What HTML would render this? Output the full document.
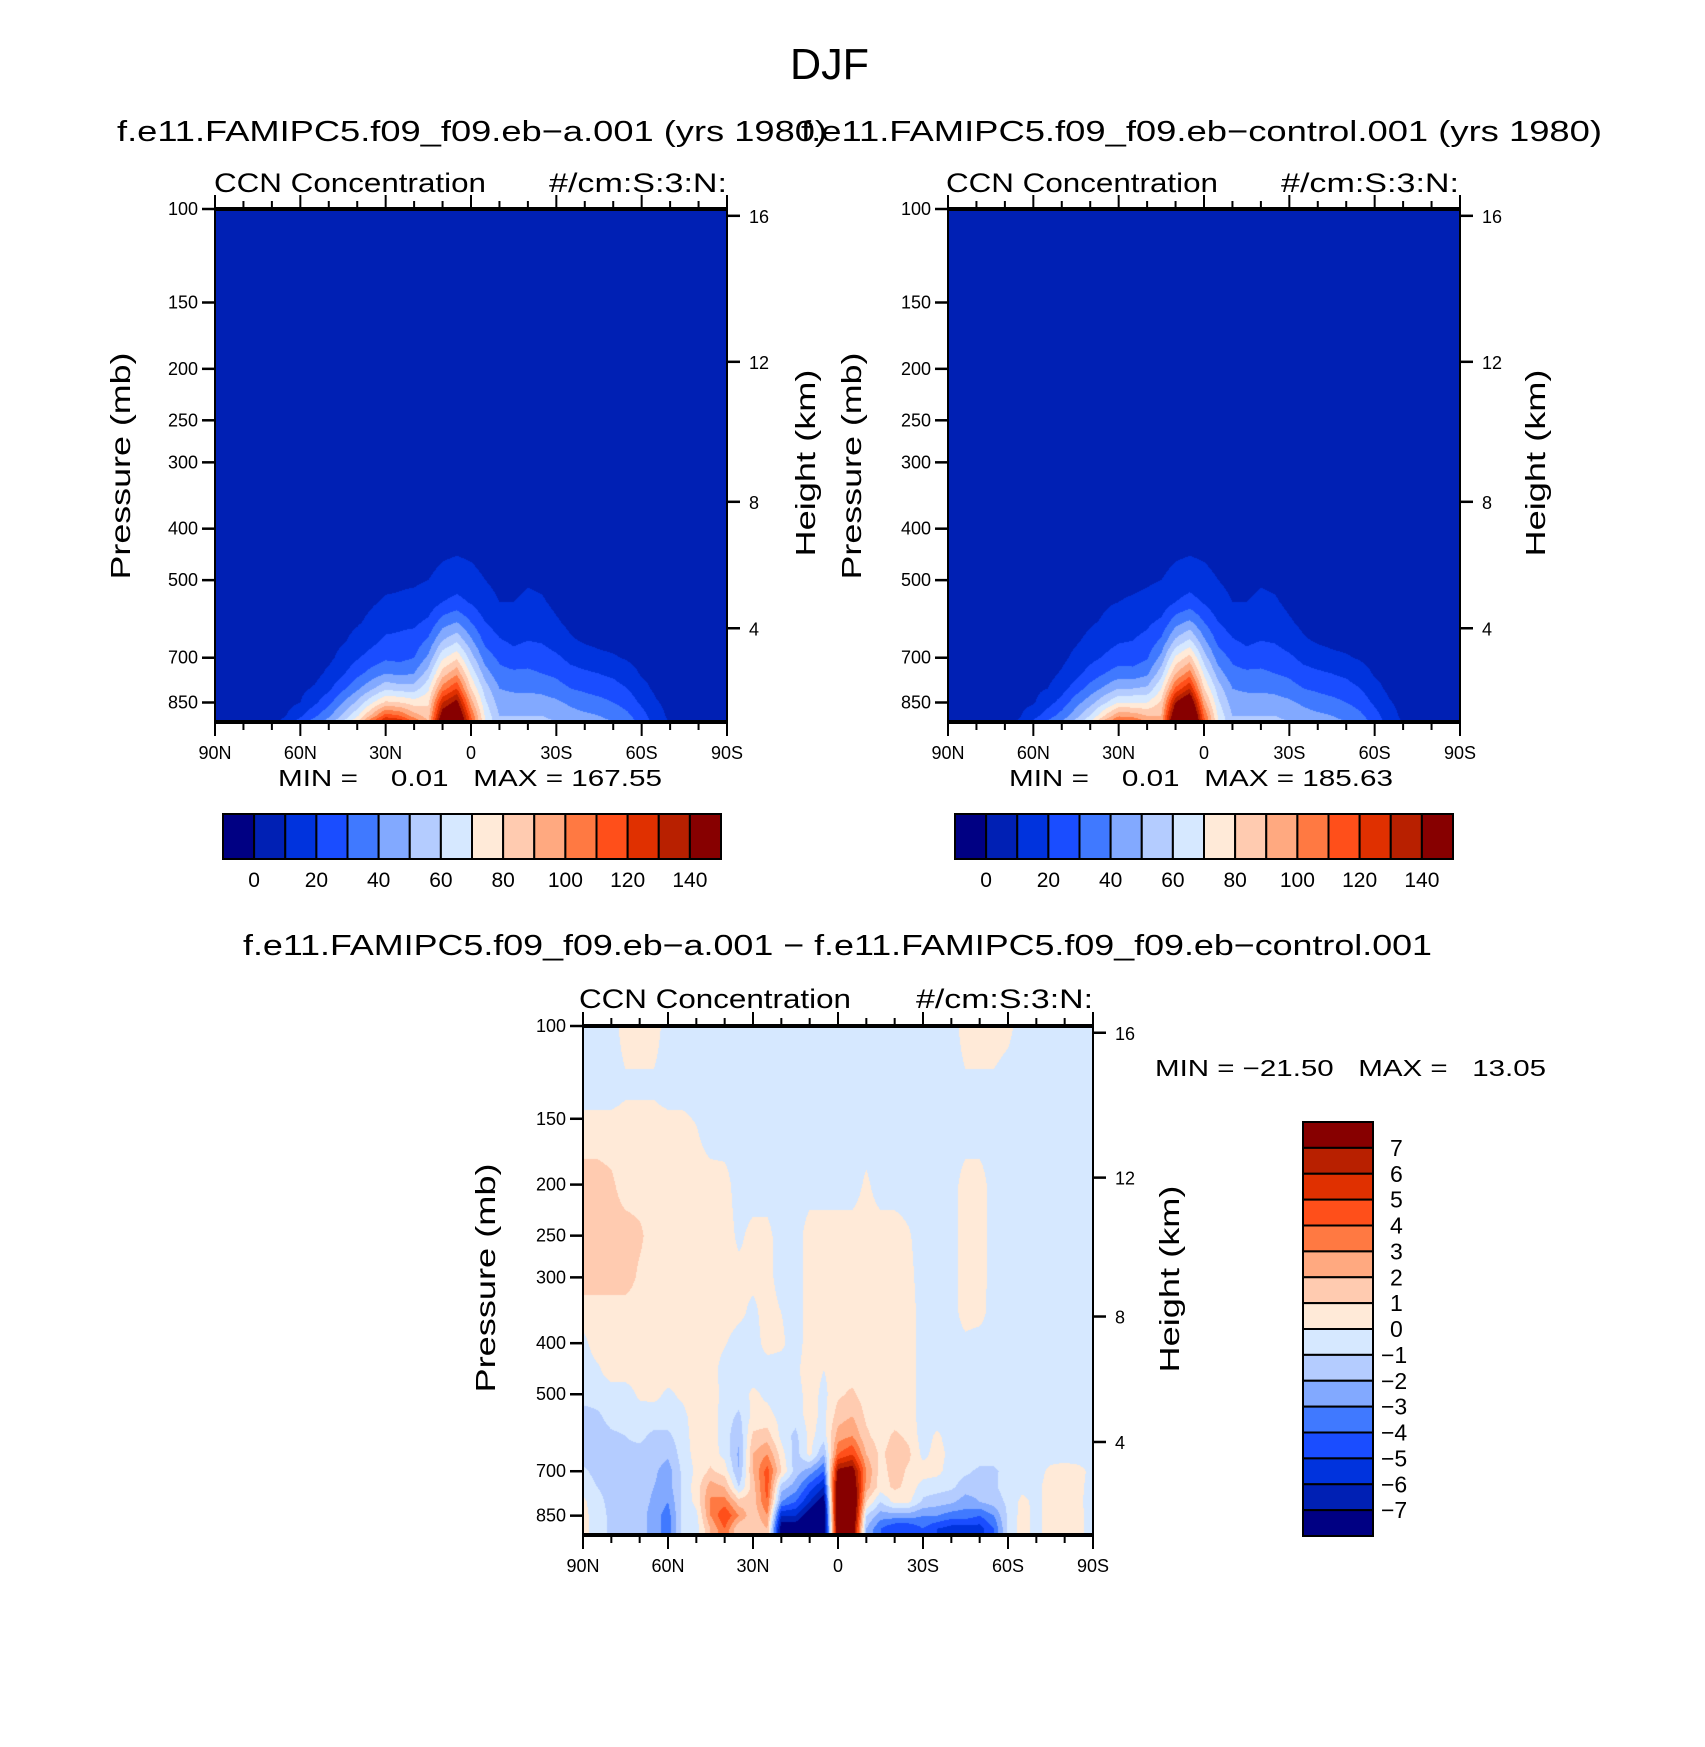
<!DOCTYPE html>
<html>
<head>
<meta charset="utf-8">
<style>
html,body{margin:0;padding:0;background:#fff;}
#root{position:relative;width:1705px;height:1747px;overflow:hidden;background:#fff;}
canvas{position:absolute;}
svg{position:absolute;left:0;top:0;}
text{font-family:"Liberation Sans",sans-serif;fill:#000;}
</style>
</head>
<body>
<div id="root">
<canvas id="c1" style="left:215px;top:209px" width="512" height="513"></canvas>
<canvas id="c2" style="left:948px;top:209px" width="512" height="513"></canvas>
<canvas id="c3" style="left:583px;top:1026px" width="510" height="509"></canvas>
<svg id="svg" width="1705" height="1747" xmlns="http://www.w3.org/2000/svg">
<text x="790" y="79" font-size="44" textLength="79" lengthAdjust="spacingAndGlyphs">DJF</text>
<text x="117" y="141" font-size="29" textLength="710" lengthAdjust="spacingAndGlyphs">f.e11.FAMIPC5.f09_f09.eb−a.001 (yrs 1980)</text>
<text x="801" y="141" font-size="29" textLength="801" lengthAdjust="spacingAndGlyphs">f.e11.FAMIPC5.f09_f09.eb−control.001 (yrs 1980)</text>
<text x="243" y="955" font-size="29" textLength="1189" lengthAdjust="spacingAndGlyphs">f.e11.FAMIPC5.f09_f09.eb−a.001 − f.e11.FAMIPC5.f09_f09.eb−control.001</text>

<text x="214" y="192" font-size="27" textLength="272" lengthAdjust="spacingAndGlyphs">CCN Concentration</text>
<text x="549" y="192" font-size="27" textLength="178" lengthAdjust="spacingAndGlyphs">#/cm:S:3:N:</text>
<text x="946" y="192" font-size="27" textLength="272" lengthAdjust="spacingAndGlyphs">CCN Concentration</text>
<text x="1281" y="192" font-size="27" textLength="178" lengthAdjust="spacingAndGlyphs">#/cm:S:3:N:</text>
<text x="579" y="1008" font-size="27" textLength="272" lengthAdjust="spacingAndGlyphs">CCN Concentration</text>
<text x="916" y="1008" font-size="27" textLength="177" lengthAdjust="spacingAndGlyphs">#/cm:S:3:N:</text>

<text x="278" y="786" font-size="23" textLength="384" lengthAdjust="spacingAndGlyphs" xml:space="preserve">MIN =    0.01   MAX = 167.55</text>
<text x="1009" y="786" font-size="23" textLength="384" lengthAdjust="spacingAndGlyphs" xml:space="preserve">MIN =    0.01   MAX = 185.63</text>
<text x="1155" y="1076" font-size="23" textLength="391" lengthAdjust="spacingAndGlyphs" xml:space="preserve">MIN = −21.50   MAX =   13.05</text>

<text transform="translate(130,466) rotate(-90)" text-anchor="middle" font-size="28" textLength="227" lengthAdjust="spacingAndGlyphs">Pressure (mb)</text>
<text transform="translate(815,463) rotate(-90)" text-anchor="middle" font-size="28" textLength="187" lengthAdjust="spacingAndGlyphs">Height (km)</text>
<text transform="translate(861,466) rotate(-90)" text-anchor="middle" font-size="28" textLength="227" lengthAdjust="spacingAndGlyphs">Pressure (mb)</text>
<text transform="translate(1545,463) rotate(-90)" text-anchor="middle" font-size="28" textLength="187" lengthAdjust="spacingAndGlyphs">Height (km)</text>
<text transform="translate(495,1278) rotate(-90)" text-anchor="middle" font-size="28" textLength="229" lengthAdjust="spacingAndGlyphs">Pressure (mb)</text>
<text transform="translate(1179,1279) rotate(-90)" text-anchor="middle" font-size="28" textLength="187" lengthAdjust="spacingAndGlyphs">Height (km)</text>
<g id="axes"></g>
</svg>
</div>
<script>
// ---------- data ----------
const palette = ["#000083","#0020b4","#0033dd","#1a4dff","#4079ff","#82a9ff","#b4ccff","#d6e8ff","#ffead8","#ffcbb0","#ffa980","#ff7942","#ff4f1a","#e03000","#b82000","#870000"];
const lats = [90,85,80,75,70,65,60,55,50,45,40,35,30,25,20,15,10,5,0,-5,-10,-15,-20,-25,-30,-35,-40,-45,-50,-55,-60,-65,-70,-75,-80,-85,-90];
const pressureTicks = [100,150,200,250,300,400,500,700,850];
const heightTicks = [16,12,8,4];
const heightTickPressure = [103,194,356,616];
const latTicks = [90,60,30,0,-30,-60,-90];
const latTickLabels = ["90N","60N","30N","0","30S","60S","90S"];
const absLevelLabels = [0,20,40,60,80,100,120,140];
const diffLevelLabels = [7,6,5,4,3,2,1,0,-1,-2,-3,-4,-5,-6,-7];

const topPressure = [100,400,450,500,550,600,650,700,750,800,850,900,925];
const caseA = [
[5,5,5,5,5,5,5,5,5,5,5,5,5,5,5,5,5,5,5,5,5,5,5,5,5,5,5,5,5,5,5,5,5,5,5,5,5],
[5,5,5,5,5,5,5,5,5,5,5,5,5,5,5,5,6,7,6,5,5,5,5,5,5,5,5,5,5,5,5,5,5,5,5,5,5],
[5,5,5,5,5,5,5,5,5,5,5,5,5,5,5,7,9,10,9,7,5,5,6,5,5,5,5,5,5,5,5,5,5,5,5,5,5],
[5,5,5,5,5,5,5,5,5,5,6,7,8,9,9,10,13,15,13,10,8,7,9,8,5,5,5,5,5,5,5,5,5,5,5,5,5],
[5,5,5,5,5,5,5,5,5,6,7,9,11,11,12,14,20,23,19,13,10,10,12,11,8,6,5,5,5,5,5,5,5,5,5,5,5],
[5,5,5,5,5,5,5,5,6,7,9,12,16,18,18,22,35,40,30,20,15,13,15,14,11,8,7,6,5,5,5,5,5,5,5,5,5],
[5,5,5,5,5,5,5,6,7,9,13,17,22,22,24,32,50,58,42,27,21,18,20,19,15,11,9,8,7,6,5,5,5,5,5,5,5],
[5,5,5,5,5,5,6,7,8,13,19,24,28,27,30,42,68,78,55,35,28,24,26,25,22,17,14,12,11,9,7,6,5,5,5,5,5],
[5,5,5,5,5,6,7,7,12,19,27,34,40,38,40,55,85,98,68,45,33,32,32,30,28,24,22,20,18,14,9,7,6,5,5,5,5],
[5,5,5,5,5,7,8,11,18,28,38,48,58,55,55,68,105,120,80,55,40,38,38,37,34,30,28,26,24,20,13,8,6,5,5,5,5],
[5,5,5,5,6,7,10,18,27,40,52,68,82,80,75,78,130,145,95,62,45,45,45,44,42,38,35,33,30,26,18,11,7,5,5,5,5],
[5,5,5,5,7,10,18,28,38,52,68,92,115,110,95,85,150,165,110,68,50,50,50,50,48,44,42,40,37,32,24,14,8,5,5,5,5],
[5,5,5,5,8,12,25,35,45,60,80,110,135,130,110,90,160,170,115,70,52,52,53,52,50,46,45,43,40,35,27,16,9,5,5,5,5]
];
const caseControl = [
[5,5,5,5,5,5,5,5,5,5,5,5,5,5,5,5,5,5,5,5,5,5,5,5,5,5,5,5,5,5,5,5,5,5,5,5,5],
[5,5,5,5,5,5,5,5,5,5,5,5,5,5,5,5,6,7,6,5,5,5,5,5,5,5,5,5,5,5,5,5,5,5,5,5,5],
[5,5,5,5,5,5,5,5,5,5,5,5,5,5,5,7,9,10,9,7,5,5,6,5,5,5,5,5,5,5,5,5,5,5,5,5,5],
[5,5,5,5,5,5,5,5,5,5,6,7,8,8,9,10,13,15,13,10,8,7,9,8,5,5,5,5,5,5,5,5,5,5,5,5,5],
[5,5,5,5,5,5,5,5,5,6,7,9,10,11,12,14,20,24,19,13,10,10,12,11,8,6,5,5,5,5,5,5,5,5,5,5,5],
[5,5,5,5,5,5,5,5,6,7,9,11,14,16,18,22,36,42,30,20,15,13,15,14,11,8,7,6,5,5,5,5,5,5,5,5,5],
[5,5,5,5,5,5,5,6,7,9,12,16,19,20,23,32,52,62,42,27,21,18,20,19,15,11,9,8,7,6,5,5,5,5,5,5,5],
[5,5,5,5,5,5,6,7,8,12,17,21,25,25,29,43,72,84,55,35,28,24,26,25,22,17,14,12,11,9,7,6,5,5,5,5,5],
[5,5,5,5,5,6,7,7,11,17,24,30,35,34,38,56,90,105,68,45,33,32,32,30,28,24,22,20,18,14,9,7,6,5,5,5,5],
[5,5,5,5,5,7,8,10,16,25,34,42,50,50,52,70,112,130,80,55,40,38,38,37,34,30,28,26,24,20,13,8,6,5,5,5,5],
[5,5,5,5,6,7,9,16,24,36,46,58,70,70,70,82,140,160,95,62,45,45,45,44,42,38,35,33,30,26,18,11,7,5,5,5,5],
[5,5,5,5,7,9,16,25,34,46,60,80,98,96,90,90,160,180,110,68,50,50,50,50,48,44,42,40,37,32,24,14,8,5,5,5,5],
[5,5,5,5,8,11,22,32,40,54,70,95,115,112,100,95,170,186,115,70,52,52,53,52,50,46,45,43,40,35,27,16,9,5,5,5,5]
];

const diffPressure = [100,130,160,200,250,300,350,400,450,500,550,600,650,700,750,800,850,900,925];
const diffField = [
[-0.5,-0.5,-0.5,0.5,0.5,0.5,-0.5,-0.5,-0.5,-0.5,-0.5,-0.5,-0.5,-0.5,-0.5,-0.5,-0.5,-0.5,-0.5,-0.5,-0.5,-0.5,-0.5,-0.5,-0.5,-0.5,-0.5,0.5,0.5,0.5,0.3,-0.5,-0.5,-0.5,-0.5,-0.5,-0.5],
[-0.5,-0.5,-0.5,-0.2,-0.2,-0.2,-0.5,-0.5,-0.5,-0.5,-0.5,-0.5,-0.5,-0.5,-0.5,-0.5,-0.5,-0.5,-0.5,-0.5,-0.5,-0.5,-0.5,-0.5,-0.5,-0.5,-0.5,-0.2,-0.2,-0.2,-0.5,-0.5,-0.5,-0.5,-0.5,-0.5,-0.5],
[0.5,0.5,0.5,0.5,0.5,0.5,0.5,0.5,0.1,-0.5,-0.5,-0.5,-0.5,-0.5,-0.5,-0.5,-0.5,-0.5,-0.5,-0.5,-0.5,-0.5,-0.5,-0.5,-0.5,-0.5,-0.5,-0.5,-0.5,-0.5,-0.5,-0.5,-0.5,-0.5,-0.5,-0.5,-0.5],
[1.5,1.5,1.2,0.5,0.5,0.5,0.5,0.5,0.5,0.5,0.4,-0.5,-0.5,-0.5,-0.5,-0.5,-0.5,-0.5,-0.5,-0.5,0.2,-0.5,-0.5,-0.5,-0.5,-0.5,-0.5,0.5,0.5,-0.5,-0.5,-0.5,-0.5,-0.5,-0.5,-0.5,-0.5],
[1.5,1.5,1.5,1.5,1.2,0.5,0.5,0.5,0.5,0.5,0.5,-0.2,0.3,0.3,-0.5,-0.5,0.5,0.5,0.5,0.5,0.5,0.5,0.5,0.1,-0.5,-0.5,-0.5,0.5,0.5,-0.5,-0.5,-0.5,-0.5,-0.5,-0.5,-0.5,-0.5],
[1.5,1.5,1.5,1.5,0.8,0.5,0.5,0.5,0.5,0.5,0.5,0.3,0.3,0.4,-0.5,-0.5,0.5,0.5,0.5,0.5,0.5,0.5,0.5,0.3,-0.5,-0.5,-0.5,0.5,0.5,-0.5,-0.5,-0.5,-0.5,-0.5,-0.5,-0.5,-0.5],
[0.5,0.5,0.5,0.5,0.5,0.5,0.5,0.5,0.5,0.5,0.5,0.3,-0.3,0.5,0,-0.5,0.5,0.3,0.5,0.5,0.5,0.5,0.5,0.5,-0.5,-0.5,-0.5,0.5,0.4,-0.5,-0.5,-0.5,-0.5,-0.5,-0.5,-0.5,-0.5],
[-0.3,0.5,0.5,0.5,0.5,0.5,0.5,0.5,0.5,0.5,0.1,-0.5,-0.5,0.4,0.2,-0.5,0.5,0.5,0.5,0.5,0.5,0.5,0.5,0.5,-0.5,-0.5,-0.5,-0.3,-0.5,-0.5,-0.5,-0.5,-0.5,-0.5,-0.5,-0.5,-0.5],
[-0.5,-0.2,0.5,0.5,0.5,0.5,0.5,0.5,0.5,0.5,-0.5,-0.5,-0.5,-0.5,-0.5,-0.2,0.5,0,0.5,0.5,0.5,0.5,0.5,0.5,-0.5,-0.5,-0.5,-0.5,-0.5,-0.5,-0.5,-0.5,-0.5,-0.5,-0.5,-0.5,-0.5],
[-0.5,-0.5,-0.5,-0.5,0.2,0.3,-0.2,0.2,0.5,0.5,-0.3,-0.5,0.2,-0.2,-0.5,-0.5,0.5,-0.3,0.8,1.2,0.5,0.5,0.5,0.5,-0.5,-0.5,-0.5,-0.5,-0.5,-0.5,-0.5,-0.5,-0.5,-0.5,-0.5,-0.5,-0.5],
[-1.5,-1.2,-0.6,-0.5,-0.5,-0.5,-0.5,-0.3,0.5,0.5,-0.5,-1.2,0.3,0.3,-0.3,-0.5,0.4,-0.3,1.5,2,0.8,0.5,0.5,0.5,-0.5,-0.5,-0.5,-0.5,-0.5,-0.5,-0.5,-0.5,-0.5,-0.5,-0.5,-0.5,-0.5],
[-1.5,-1.5,-1.2,-1.0,-0.8,-1.2,-1.2,-0.5,0.5,0.5,-0.5,-1.8,1.2,1.5,-0.3,-1.3,0.3,-0.5,2.5,3,1.2,0.5,1.2,0.8,-0.5,0.2,-0.5,-0.5,-0.5,-0.5,-0.5,-0.5,-0.5,-0.5,-0.5,-0.5,-0.5],
[-1.5,-1.5,-1.3,-1.2,-1.3,-1.5,-1.8,-0.6,0.4,0.5,-0.3,-2.2,2,3,0.5,-1.5,0.3,-2,4,5,2,0.8,1.5,1.2,-0.3,0.4,-0.3,-0.5,-0.5,-0.5,-0.5,-0.5,-0.5,-0.5,-0.5,-0.5,-0.5],
[-0.8,-1.3,-1.3,-1.2,-1.4,-1.8,-2.5,-0.8,0.2,1.2,0.5,-2,2,4.5,1,-1.5,-2.5,-4,7.5,8,3,0.5,1.5,0.8,0.5,0.3,-0.5,-0.8,-1.2,-1.2,-0.6,-0.4,-0.5,0.3,0.5,0.3,-0.3],
[-0.5,-1.0,-1.2,-1.2,-1.5,-2,-2.5,-0.8,0.5,2.5,2,-1,1.5,4.5,-1.5,-2.5,-4.5,-6,9,9,2.5,0.5,1.2,0.7,-0.5,-0.6,-0.8,-1.5,-1.5,-1.2,-0.5,-0.3,-0.3,0.5,0.5,0.3,-0.5],
[0.3,-0.8,-1.2,-1.2,-1.5,-2.2,-3,-0.8,0.3,3.2,3.5,1.5,1.5,4,-3,-4,-6,-8,10,10,1,-1,0.3,0.2,-1.2,-1.5,-1.8,-2.5,-2,-1.5,-0.8,0.3,-0.3,0.5,0.5,0.2,-0.5],
[0.4,-0.6,-1.2,-1.2,-1.5,-2.5,-3.5,-0.8,-0.3,3,5,3,1.2,3,-6,-6,-8,-9,10,10,-1,-2.5,-2.5,-2.5,-3,-3,-3.5,-3.5,-4,-3,-0.8,0.4,-0.3,0.5,0.5,0.3,-0.5],
[0.4,-0.6,-1.2,-1.2,-1.5,-2.5,-3.5,-0.8,-0.5,2,4,1,1,2,-8,-8,-9,-9,9,9,-2,-4,-5,-5,-4,-5,-5.5,-5.5,-5.5,-4,-0.8,0.4,-0.3,0.5,0.5,0.3,-0.5],
[0.4,-0.6,-1.2,-1.2,-1.5,-2.5,-3.5,-0.8,-0.5,2,4,1,1,2,-8,-8,-9,-9,9,9,-2,-4,-5,-5,-4,-5,-5.5,-5.5,-5.5,-4,-0.8,0.4,-0.3,0.5,0.5,0.3,-0.5]
];

// ---------- scales ----------
const PTOP = 100, PBOT = 925;
function makeScales(x0, y0, w, h) {
  return {
    x: lat => x0 + (90 - lat) / 180 * w,
    y: p => y0 + Math.log10(p / PTOP) / Math.log10(PBOT / PTOP) * h,
    latAt: px => 90 - (px + 0.5) / w * 180,
    pAt: py => PTOP * Math.pow(PBOT / PTOP, (py + 0.5) / h),
    x0, y0, w, h
  };
}
function hexRgb(h){return [parseInt(h.slice(1,3),16),parseInt(h.slice(3,5),16),parseInt(h.slice(5,7),16)];}
const rgbPal = palette.map(hexRgb);

function sample(field, rows, lat, p) {
  const fi = (90 - lat) / 5;
  let i0 = Math.min(Math.floor(fi), lats.length - 2); if (i0 < 0) i0 = 0;
  const tx = fi - i0;
  let k = 0;
  while (k < rows.length - 2 && p > rows[k + 1]) k++;
  const lp = Math.log(p), l0 = Math.log(rows[k]), l1 = Math.log(rows[k + 1]);
  let ty = (lp - l0) / (l1 - l0); ty = Math.max(0, Math.min(1, ty));
  const a = field[k][i0], b = field[k][i0 + 1], c = field[k + 1][i0], d = field[k + 1][i0 + 1];
  return (a * (1 - tx) + b * tx) * (1 - ty) + (c * (1 - tx) + d * tx) * ty;
}

function drawField(canvasId, sc, field, rows, levelIndex) {
  const cv = document.getElementById(canvasId);
  const ctx = cv.getContext('2d');
  const img = ctx.createImageData(cv.width, cv.height);
  for (let py = 0; py < cv.height; py++) {
    const p = sc.pAt(py);
    for (let px = 0; px < cv.width; px++) {
      const v = sample(field, rows, sc.latAt(px), p);
      const c = rgbPal[levelIndex(v)];
      const o = (py * cv.width + px) * 4;
      img.data[o] = c[0]; img.data[o+1] = c[1]; img.data[o+2] = c[2]; img.data[o+3] = 255;
    }
  }
  ctx.putImageData(img, 0, 0);
}
const absIndex = v => Math.max(0, Math.min(15, Math.floor(v / 10) + 1));
const diffIndex = v => Math.max(0, Math.min(15, Math.floor(v) + 8));

// ---------- svg helpers ----------
const NS = "http://www.w3.org/2000/svg";
const axesG = document.getElementById('axes');
function mk(tag, attrs, name) {
  const el = document.createElementNS(NS, tag);
  for (const k in attrs) el.setAttribute(k, attrs[k]);
  
  
  axesG.appendChild(el);
  return el;
}
function label(x, y, txt, size, anchor, name) {
  const t = mk('text', {x: x, y: y, 'font-size': size, 'text-anchor': anchor}, name);
  t.textContent = txt;
  return t;
}

function drawAxes(sc, prefix) {
  const {x0, y0, w, h} = sc;
  mk('rect', {x: x0, y: y0, width: w, height: h, fill: 'none', stroke: '#000', 'stroke-width': 2}, prefix + '-frame');
  mk('line', {x1: x0 - 1, y1: y0, x2: x0 + w + 1, y2: y0, stroke: '#000', 'stroke-width': 4}, prefix + '-top-border');
  mk('line', {x1: x0 - 1, y1: y0 + h, x2: x0 + w + 1, y2: y0 + h, stroke: '#000', 'stroke-width': 4}, prefix + '-bottom-border');
  pressureTicks.forEach(p => {
    const y = sc.y(p);
    mk('line', {x1: x0 - 13, y1: y, x2: x0, y2: y, stroke: '#000', 'stroke-width': 2.5}, prefix + '-pressure-tick');
    label(x0 - 17, y + 6, String(p), 18, 'end', prefix + '-pressure-label');
  });
  heightTicks.forEach((hk, i) => {
    const y = sc.y(heightTickPressure[i]);
    mk('line', {x1: x0 + w, y1: y, x2: x0 + w + 13, y2: y, stroke: '#000', 'stroke-width': 2.5}, prefix + '-height-tick');
    label(x0 + w + 22, y + 7, String(hk), 18, 'start', prefix + '-height-label');
  });
  for (let lat = 90; lat >= -90; lat -= 10) {
    const x = sc.x(lat);
    const major = lat % 30 === 0;
    const len = major ? 14 : 8;
    mk('line', {x1: x, y1: y0, x2: x, y2: y0 - len, stroke: '#000', 'stroke-width': 2}, prefix + '-top-tick');
    mk('line', {x1: x, y1: y0 + h, x2: x, y2: y0 + h + len, stroke: '#000', 'stroke-width': 2}, prefix + '-bottom-tick');
  }
  latTicks.forEach((lat, i) => {
    label(sc.x(lat), y0 + h + 37, latTickLabels[i], 18, 'middle', prefix + '-lat-label');
  });
}

function drawHBar(x0, y0, w, h, prefix) {
  const bw = w / palette.length;
  palette.forEach((c, i) => {
    mk('rect', {x: x0 + i * bw, y: y0, width: bw, height: h, fill: c, stroke: '#000', 'stroke-width': 2}, prefix + '-colorbar-box');
  });
  absLevelLabels.forEach((v, i) => {
    const boundary = v / 10 + 1;
    label(x0 + boundary * bw, y0 + h + 28, String(v), 21, 'middle', prefix + '-colorbar-label');
  });
}
function drawVBar(x0, y0, w, h, prefix) {
  const bh = h / palette.length;
  palette.slice().reverse().forEach((c, i) => {
    mk('rect', {x: x0, y: y0 + i * bh, width: w, height: bh, fill: c, stroke: '#000', 'stroke-width': 2}, prefix + '-colorbar-box');
  });
  diffLevelLabels.forEach((v, i) => {
    label(x0 + (v < 0 ? 8 : 17) + w, y0 + (i + 1) * bh + 8, v < 0 ? '−' + Math.abs(v) : String(v), 23, 'start', prefix + '-colorbar-label');
  });
}

const s1 = makeScales(215, 209, 512, 513);
const s2 = makeScales(948, 209, 512, 513);
const s3 = makeScales(583, 1026, 510, 509);
drawField('c1', s1, caseA, topPressure, absIndex);
drawField('c2', s2, caseControl, topPressure, absIndex);
drawField('c3', s3, diffField, diffPressure, diffIndex);
drawAxes(s1, 'panel-a');
drawAxes(s2, 'panel-control');
drawAxes(s3, 'difference');
drawHBar(223, 814, 498, 45, 'panel-a');
drawHBar(955, 814, 498, 45, 'panel-control');
drawVBar(1303, 1122, 70, 414, 'difference');
</script>
</body>
</html>
